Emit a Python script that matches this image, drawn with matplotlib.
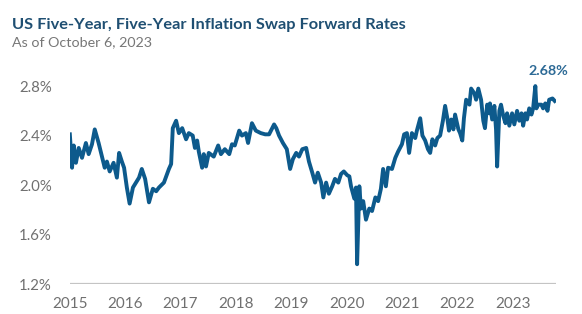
import matplotlib
matplotlib.use("Agg")
import matplotlib.pyplot as plt

plt.rcParams['font.family'] = ['Lato', 'DejaVu Sans']

# decimal year, rate in %
years = [2015.00, 2015.04, 2015.07, 2015.11, 2015.16, 2015.22, 2015.29, 2015.34, 2015.40, 2015.45,
         2015.52, 2015.58, 2015.63, 2015.67, 2015.72, 2015.79, 2015.85, 2015.89, 2015.94, 2015.98,
         2016.03, 2016.08, 2016.14, 2016.21, 2016.25, 2016.30, 2016.36, 2016.43, 2016.50, 2016.56,
         2016.61, 2016.70, 2016.79, 2016.83, 2016.86, 2016.92, 2016.97, 2017.03, 2017.10, 2017.15,
         2017.22, 2017.26, 2017.30, 2017.33, 2017.39, 2017.42, 2017.46, 2017.51, 2017.60, 2017.68,
         2017.73, 2017.80, 2017.88, 2017.93, 2017.98, 2018.06, 2018.11, 2018.18, 2018.22, 2018.29,
         2018.36, 2018.45, 2018.53, 2018.60, 2018.69, 2018.73, 2018.78, 2018.85, 2018.92, 2018.98,
         2019.03, 2019.09, 2019.14, 2019.20, 2019.27, 2019.32, 2019.38, 2019.43, 2019.48, 2019.54,
         2019.58, 2019.63, 2019.68, 2019.74, 2019.79, 2019.85, 2019.90, 2019.95, 2020.01, 2020.05,
         2020.08, 2020.14, 2020.17, 2020.19, 2020.23, 2020.26, 2020.30, 2020.35, 2020.41, 2020.46,
         2020.52, 2020.57, 2020.62, 2020.66, 2020.71, 2020.75, 2020.82, 2020.88, 2020.93, 2021.00,
         2021.04, 2021.09, 2021.13, 2021.18, 2021.24, 2021.27, 2021.33, 2021.37, 2021.42, 2021.47,
         2021.51, 2021.55, 2021.60, 2021.64, 2021.69, 2021.74, 2021.78, 2021.82, 2021.85, 2021.89,
         2021.93, 2021.96, 2022.02, 2022.05, 2022.09, 2022.12, 2022.16, 2022.22, 2022.25, 2022.31,
         2022.34, 2022.38, 2022.43, 2022.47, 2022.50, 2022.54, 2022.58, 2022.59, 2022.63, 2022.67,
         2022.70, 2022.72, 2022.76, 2022.79, 2022.83, 2022.87, 2022.90, 2022.94, 2022.99, 2023.03,
         2023.08, 2023.12, 2023.16, 2023.19, 2023.23, 2023.26, 2023.30, 2023.34, 2023.37, 2023.41,
         2023.43, 2023.46, 2023.52, 2023.55, 2023.59, 2023.63, 2023.66, 2023.72, 2023.76]
rates = [2.41, 2.14, 2.32, 2.18, 2.30, 2.22, 2.34, 2.25, 2.33, 2.45,
         2.34, 2.23, 2.14, 2.19, 2.11, 2.18, 2.06, 2.26, 2.19, 2.14,
         1.98, 1.85, 1.98, 2.03, 2.06, 2.13, 2.05, 1.86, 1.97, 1.95,
         1.98, 2.02, 2.13, 2.17, 2.46, 2.52, 2.42, 2.46, 2.37, 2.42,
         2.40, 2.30, 2.36, 2.27, 2.14, 2.25, 2.15, 2.26, 2.23, 2.32,
         2.25, 2.29, 2.25, 2.33, 2.32, 2.44, 2.40, 2.42, 2.34, 2.50,
         2.44, 2.42, 2.41, 2.41, 2.49, 2.46, 2.40, 2.34, 2.29, 2.13,
         2.21, 2.26, 2.23, 2.29, 2.30, 2.19, 2.10, 2.02, 2.10, 2.02,
         1.90, 2.02, 1.93, 1.99, 2.05, 2.02, 2.09, 2.11, 2.08, 2.07,
         1.99, 1.89, 1.98, 1.36, 1.99, 1.81, 1.87, 1.72, 1.81, 1.79,
         1.90, 1.87, 1.97, 2.13, 1.99, 2.14, 2.13, 2.22, 2.27, 2.33,
         2.41, 2.42, 2.26, 2.42, 2.38, 2.44, 2.54, 2.40, 2.36, 2.29,
         2.26, 2.37, 2.32, 2.38, 2.40, 2.52, 2.64, 2.54, 2.44, 2.53,
         2.45, 2.57, 2.45, 2.42, 2.36, 2.54, 2.69, 2.65, 2.78, 2.74,
         2.69, 2.78, 2.69, 2.52, 2.46, 2.65, 2.58, 2.66, 2.53, 2.64,
         2.45, 2.15, 2.60, 2.65, 2.56, 2.50, 2.58, 2.48, 2.58, 2.49,
         2.60, 2.52, 2.58, 2.48, 2.58, 2.53, 2.62, 2.57, 2.62, 2.80,
         2.62, 2.65, 2.65, 2.62, 2.66, 2.60, 2.69, 2.70, 2.68]

year_ticks = [2015, 2016, 2017, 2018, 2019, 2020, 2021, 2022, 2023]
pct_ticks = [1.2, 1.6, 2.0, 2.4, 2.8]
last_label = "2.68%"

fig = plt.figure(figsize=(5.82, 3.14), dpi=100)
ax = fig.add_axes([0.120, 0.0955, 0.835, 0.65])

ax.plot(years, rates, color="#0d5a8c", lw=2.8, solid_joinstyle="round")
ax.axhline(1.2, color="#c4c4c4", lw=1.6, zorder=0)

ax.set_xlim(2015.0, 2023.78)
ax.set_ylim(1.2, 2.85)
ax.set_xticks(year_ticks)
ax.set_xticklabels([str(y) for y in year_ticks])
ax.set_yticks(pct_ticks)
ax.set_yticklabels([f"{v:.1f}%" for v in pct_ticks])
ax.tick_params(length=0, colors="#707070")
ax.tick_params(axis="y", pad=13, labelsize=10.8)
ax.tick_params(axis="x", pad=9, labelsize=11)
for s in ax.spines.values():
    s.set_visible(False)

fig.text(0.021, 0.908, "US Five-Year, Five-Year Inflation Swap Forward Rates",
         fontsize=11.8, fontweight="bold", color="#1f4f72", va="baseline")
fig.text(0.021, 0.852, "As of October 6, 2023", fontsize=10.3, color="#777777", va="baseline")
fig.text(0.976, 0.761, last_label, fontsize=10.3, fontweight="bold", color="#2d6a96",
         ha="right", va="baseline")

fig.savefig("out.png", dpi=100, facecolor="white")
